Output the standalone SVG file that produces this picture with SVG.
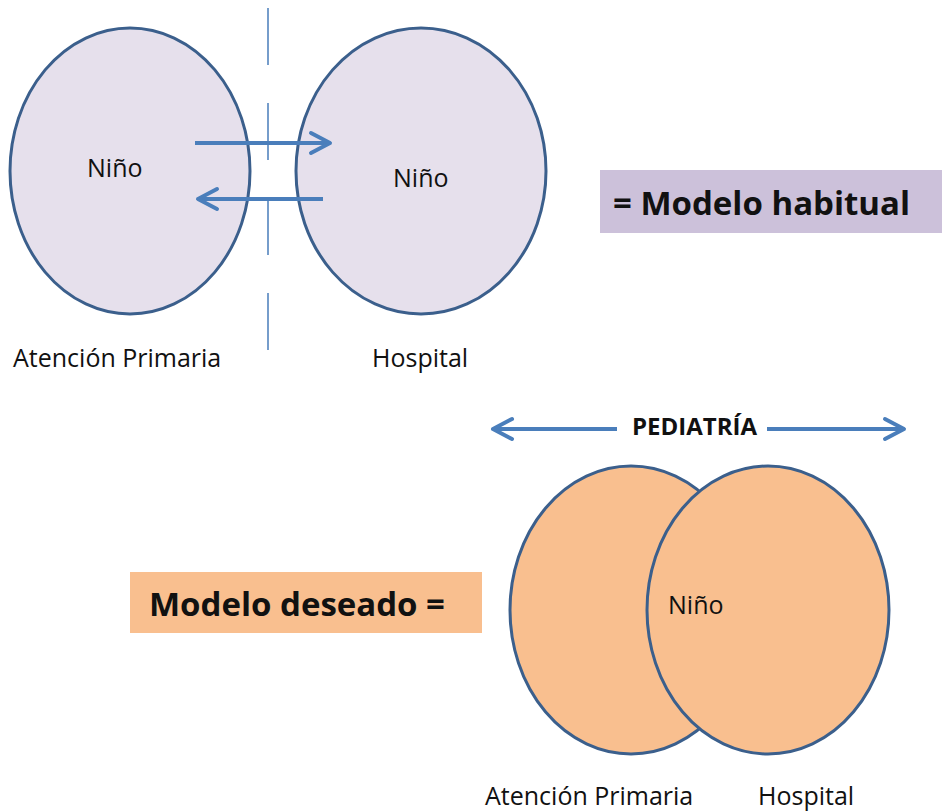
<svg xmlns="http://www.w3.org/2000/svg" width="942" height="812" viewBox="0 0 942 812">
<style>
  .lbl { font-family: "Open Sans", "Liberation Sans", sans-serif; font-size: 25px; fill: #111; }
  .big { font-family: "Open Sans", "Liberation Sans", sans-serif; font-size: 33px; font-weight: bold; fill: #111; }
  .ped { font-family: "Open Sans", "Liberation Sans", sans-serif; font-size: 24px; font-weight: bold; fill: #111; }
  .top { fill: #E6E0EC; stroke: #3B5F8C; stroke-width: 3; }
  .bot { fill: #F9BF8F; stroke: #3B5F8C; stroke-width: 3; }
  .arr { stroke: #4A7EBB; stroke-width: 4; fill: none; marker-end: url(#head); }
</style>
<defs>
  <marker id="head" markerUnits="userSpaceOnUse" viewBox="-22 -13 26 26" refX="0" refY="0" markerWidth="26" markerHeight="26" orient="auto">
    <path d="M -19 -10 L 0 0 L -19 10" fill="none" stroke="#4A7EBB" stroke-width="4" stroke-linecap="round" stroke-linejoin="round"/>
  </marker>
</defs>
<rect width="942" height="812" fill="#FFFFFF"/>

<g id="divider">
  <line x1="268" y1="8" x2="268" y2="352" stroke="#4A7EBB" stroke-width="1.5" stroke-dasharray="57 38"/>
</g>

<g id="node-ap-top">
  <ellipse class="top" cx="130" cy="171" rx="120" ry="143"/>
  <text class="lbl" x="87" y="177">Niño</text>
  <text class="lbl" x="13" y="367">Atención Primaria</text>
</g>

<g id="node-hosp-top">
  <ellipse class="top" cx="421" cy="171" rx="125" ry="143"/>
  <text class="lbl" x="393" y="187">Niño</text>
  <text class="lbl" x="372" y="367">Hospital</text>
</g>

<g id="label-habitual">
  <rect x="600" y="170" width="342" height="63" fill="#CCC1DA"/>
  <text class="big" x="613" y="215">= Modelo habitual</text>
</g>

<g id="label-deseado">
  <rect x="130" y="572" width="352" height="61" fill="#F9BF8F"/>
  <text class="big" x="149" y="616">Modelo deseado =</text>
</g>

<g id="node-ap-bottom">
  <ellipse class="bot" cx="631" cy="610" rx="121" ry="144"/>
  <text class="lbl" x="485" y="805">Atención Primaria</text>
</g>

<g id="node-hosp-bottom">
  <ellipse class="bot" cx="768" cy="610" rx="121" ry="144"/>
  <text class="lbl" x="668" y="614">Niño</text>
  <text class="lbl" x="758" y="805">Hospital</text>
</g>

<g id="pediatria">
  <text class="ped" x="632" y="435">PEDIATRÍA</text>
</g>

<g id="connectors">
  <line class="arr" x1="195" y1="143" x2="330" y2="143"/>
  <line class="arr" x1="323" y1="199" x2="198" y2="199"/>
  <line class="arr" x1="617" y1="429" x2="493" y2="429"/>
  <line class="arr" x1="767" y1="429" x2="904" y2="429"/>
</g>
</svg>
